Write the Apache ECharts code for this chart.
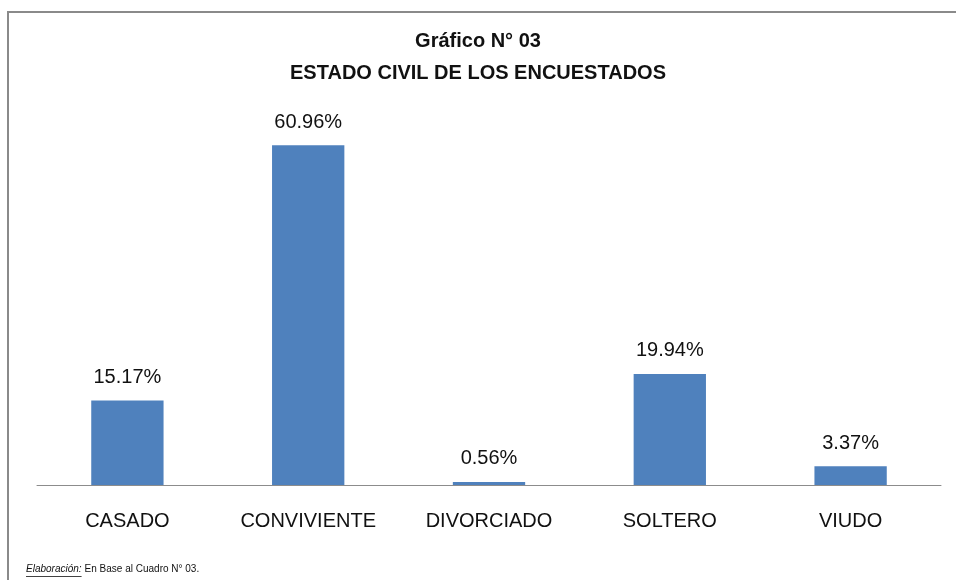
<!DOCTYPE html>
<html>
<head>
<meta charset="utf-8">
<script src="https://cdn.jsdelivr.net/npm/echarts@6/dist/echarts.min.js"></script>
<style>html,body{margin:0;padding:0;background:#fff}#c{width:956px;height:580px}</style>
</head>
<body>
<div id="c"></div>
<script>
const categories = ['CASADO', 'CONVIVIENTE', 'DIVORCIADO', 'SOLTERO', 'VIUDO'];
const values = [15.17, 60.96, 0.56, 19.94, 3.37];
const titleLines = ['Gráfico N° 03', 'ESTADO CIVIL DE LOS ENCUESTADOS'];
const noteLabel = 'Elaboración:';
const noteText = 'En Base al Cuadro N° 03.';

const FONT = "'Liberation Sans', Arial, sans-serif";
const noteFontA = 'italic 10px ' + FONT;
const noteFontB = '10px ' + FONT;
const ctx = document.createElement('canvas').getContext('2d');
ctx.font = noteFontA;
const wA = ctx.measureText(noteLabel).width;

const chart = echarts.init(document.getElementById('c'));
chart.setOption({
  backgroundColor: '#fff',
  animation: false,
  title: {
    text: titleLines.join('\n'),
    left: 'center',
    top: 20,
    textStyle: { fontFamily: FONT, fontSize: 20, fontWeight: 'bold', color: '#111', lineHeight: 32 }
  },
  grid: { left: 37, right: 15, top: 95, bottom: 95 },
  xAxis: {
    type: 'category',
    data: categories,
    axisLine: { lineStyle: { color: '#8c8c8c', width: 1 } },
    axisTick: { show: false },
    axisLabel: { interval: 0, fontFamily: FONT, fontSize: 20, color: '#111', margin: 26 }
  },
  yAxis: {
    type: 'value', min: 0, max: 70, interval: 10,
    show: false, splitLine: { show: false }
  },
  series: [{
    type: 'bar',
    data: values,
    barCategoryGap: '60%',
    itemStyle: { color: '#4F81BD' },
    label: {
      show: true, position: 'top', distance: 13,
      fontFamily: FONT, fontSize: 20, color: '#111',
      formatter: p => p.value.toFixed(2) + '%'
    }
  }],
  graphic: [
    { type: 'polyline', shape: { points: [[8, 580], [8, 12], [956, 12]] },
      style: { stroke: '#8a8a8a', lineWidth: 2, fill: null } },
    { type: 'text', left: 26, top: 564,
      style: { text: noteLabel, font: noteFontA, fill: '#111' } },
    { type: 'line', shape: { x1: 26, y1: 576.5, x2: 26 + wA, y2: 576.5 },
      style: { stroke: '#111', lineWidth: 0.8 } },
    { type: 'text', left: 26 + wA + 3, top: 564,
      style: { text: noteText, font: noteFontB, fill: '#111' } }
  ]
});
</script>
</body>
</html>
